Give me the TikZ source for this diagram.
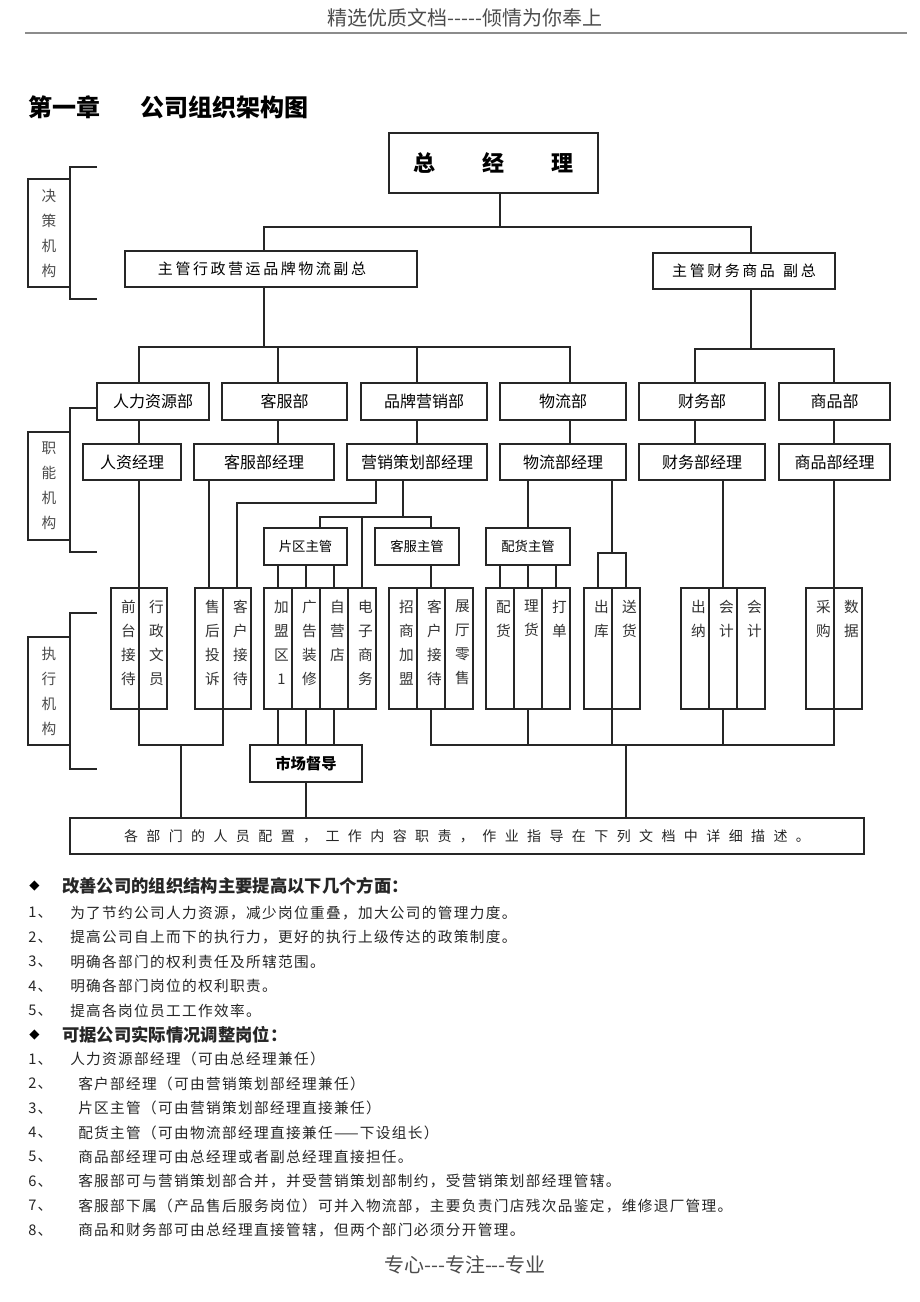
\documentclass[tikz,border=0pt]{standalone}
\usepackage{fontspec}
\setmainfont{Noto Sans CJK SC}
\newfontfamily\dejavu{DejaVu Sans}
\usetikzlibrary{calc}
\tikzset{
  bx/.style 2 args={draw=black!85, line width=0.9pt, inner sep=0pt, outer sep=0pt, minimum width=#1*0.75pt, minimum height=#2*0.75pt},
  dept/.style={font=\fontsize{12}{14}\selectfont},
  sup/.style={font=\fontsize{10}{12}\selectfont},
  cell/.style={bx={28}{121}},
  ctext/.style={anchor=north, inner sep=0pt, align=center, text=black!80, font=\fontsize{11}{18}\selectfont, xshift=2.5pt, yshift=-9pt},
  lbl/.style={bx={42}{108}, align=center, text=black!70, font=\fontsize{11}{18.75}\selectfont},
  conn/.style={draw=black!85, line width=0.9pt},
  txt/.style={anchor=west, inner sep=0pt, text=black!85},
  item/.style={txt, font=\fontsize{11}{13}\selectfont\addfontfeature{LetterSpace=9}},
  bul/.style={txt, font=\fontsize{13}{15}\selectfont\bfseries},
}
\newcommand\mkcell[3]{\node[cell] (#1) at (#2,648.5) {}; \node[ctext] at (#1.north) {#3};}
\begin{document}
\begin{tikzpicture}[x=0.75pt,y=-0.75pt]
\useasboundingbox (0,0) rectangle (920,1302);
\fill[white] (0,0) rectangle (920,1302);

% header / footer
\node[inner sep=0pt, text=black!70, font=\fontsize{15}{17}\selectfont] (hdr) at (465,18) {精选优质文档-{}-{}-{}-{}-倾情为你奉上};
\draw[black!45, line width=1.3pt] (25,33) -- (907,33);
\node[txt, text=black, font=\fontsize{18}{20}\selectfont\bfseries] (ttl) at (28,107) {第一章\hspace{30pt}公司组织架构图};
\node[inner sep=0pt, text=black!70, font=\fontsize{15}{17}\selectfont] (ftr) at (465,1265) {专心-{}-{}-专注-{}-{}-专业};

% top level
\node[bx={209}{60}, font=\fontsize{16.5}{18}\selectfont\bfseries] (gm) at (493.5,163) {总\hspace{35.5pt}经\hspace{35.5pt}理};
\node[bx={292}{36}] (vp1) at (271,269) {};
\node[inner sep=0pt, font=\fontsize{11.25}{13}\selectfont\addfontfeature{LetterSpace=17}] (vp1t) at (262,269) {主管行政营运品牌物流副总};
\node[bx={182}{36}, font=\fontsize{11.25}{13}\selectfont\addfontfeature{LetterSpace=17}] (vp2) at (744,271) {主管财务商品\hspace{0.55em}副总};

% departments
\node[bx={112}{37}, dept] (d1) at (153,401.5) {人力资源部};
\node[bx={125}{37}, dept] (d2) at (284.5,401.5) {客服部};
\node[bx={126}{37}, dept] (d3) at (424,401.5) {品牌营销部};
\node[bx={126}{37}, dept] (d4) at (563,401.5) {物流部};
\node[bx={126}{37}, dept] (d5) at (702,401.5) {财务部};
\node[bx={111}{37}, dept] (d6) at (834.5,401.5) {商品部};

% managers
\node[bx={98}{36}, dept] (m1) at (132,462) {人资经理};
\node[bx={140}{36}, dept] (m2) at (264,462) {客服部经理};
\node[bx={140}{36}, dept] (m3) at (417,462) {营销策划部经理};
\node[bx={126}{36}, dept] (m4) at (563,462) {物流部经理};
\node[bx={126}{36}, dept] (m5) at (702,462) {财务部经理};
\node[bx={111}{36}, dept] (m6) at (834.5,462) {商品部经理};

% supervisors
\node[bx={83}{37}, sup] (s1) at (305.5,546.5) {片区主管};
\node[bx={84}{37}, sup] (s2) at (417,546.5) {客服主管};
\node[bx={84}{37}, sup] (s3) at (528,546.5) {配货主管};

% cells
\mkcell{c1}{125}{前\\台\\接\\待}
\mkcell{c2}{153}{行\\政\\文\\员}
\mkcell{c3}{209}{售\\后\\投\\诉}
\mkcell{c4}{237}{客\\户\\接\\待}
\mkcell{c5}{278}{加\\盟\\区\\1}
\mkcell{c6}{306}{广\\告\\装\\修}
\mkcell{c7}{334}{自\\营\\店}
\mkcell{c8}{362}{电\\子\\商\\务}
\mkcell{c9}{403}{招\\商\\加\\盟}
\mkcell{c10}{431}{客\\户\\接\\待}
\mkcell{c11}{459}{展\\厅\\零\\售}
\mkcell{c12}{500}{配\\货}
\mkcell{c13}{528}{理\\货}
\mkcell{c14}{556}{打\\单}
\mkcell{c15}{598}{出\\库}
\mkcell{c16}{626}{送\\货}
\mkcell{c17}{695}{出\\纳}
\mkcell{c18}{723}{会\\计}
\mkcell{c19}{751}{会\\计}
\mkcell{c20}{820}{采\\购}
\mkcell{c21}{848}{数\\据}

\node[bx={112}{37}, font=\fontsize{11.5}{13}\selectfont\bfseries] (sd) at (306,763.5) {市场督导};
\node[bx={794}{36}, text=black!85, font=\fontsize{10.5}{12}\selectfont\addfontfeature{LetterSpace=60}] (bb) at (467,836) {各部门的人员配置，工作内容职责，作业指导在下列文档中详细描述。};

% side labels
\node[lbl] (L1) at (49,233) {决\\策\\机\\构};
\node[lbl] (L2) at (49,486) {职\\能\\机\\构};
\node[lbl] (L3) at (49,691) {执\\行\\机\\构};
\coordinate (b1a) at (97,167); \coordinate (b1b) at (97,299);
\coordinate (b2a) at (97,408); \coordinate (b2b) at (97,552);
\coordinate (b3a) at (97,613); \coordinate (b3b) at (97,769);
\draw[conn] (b1a) -- (b1a -| L1.east) -- (b1b -| L1.east) -- (b1b);
\draw[conn] (b2a) -- (b2a -| L2.east) -- (b2b -| L2.east) -- (b2b);
\draw[conn] (b3a) -- (b3a -| L3.east) -- (b3b -| L3.east) -- (b3b);

% connectors top
\coordinate (t0) at (500,227); \coordinate (t1) at (264,227); \coordinate (t2) at (751,227);
\draw[conn] (gm.south -| t0) -- (t0);
\draw[conn] (vp1.north -| t1) -- (t1) -- (t2) -- (vp2.north -| t2);
\coordinate (u0) at (264,347); \coordinate (u1) at (139,347); \coordinate (u2) at (278,347);
\coordinate (u3) at (417,347); \coordinate (u4) at (570,347);
\draw[conn] (vp1.south -| u0) -- (u0);
\draw[conn] (d1.north -| u1) -- (u1) -- (u4) -- (d4.north -| u4);
\draw[conn] (u2) -- (d2.north -| u2);
\draw[conn] (u3) -- (d3.north -| u3);
\coordinate (r0) at (751,349); \coordinate (r1) at (695,349); \coordinate (r2) at (834,349);
\draw[conn] (vp2.south -| r0) -- (r0);
\draw[conn] (d5.north -| r1) -- (r1) -- (r2) -- (d6.north -| r2);

\draw[conn] (d1.south -| u1) -- (m1.north -| u1);
\draw[conn] (d2.south -| u2) -- (m2.north -| u2);
\draw[conn] (d3.south -| u3) -- (m3.north -| u3);
\draw[conn] (d4.south -| u4) -- (m4.north -| u4);
\draw[conn] (d5.south -| r1) -- (m5.north -| r1);
\draw[conn] (d6.south -| r2) -- (m6.north -| r2);

% managers to lower level
\draw[conn] (m1.south -| c2.north west) -- (c2.north west);
\draw[conn] (m2.south -| c3.north) -- (c3.north);
\coordinate (v1) at (376,503);
\draw[conn] (m3.south -| v1) -- (v1) -| (c4.north);
\coordinate (w0) at (403,517); \coordinate (w1) at (320,517); \coordinate (w2) at (431,517);
\draw[conn] (m3.south -| w0) -- (w0);
\draw[conn] (s1.north -| w1) -- (w1) -- (w2) -- (s2.north -| w2);
\draw[conn] (w1 -| c8.north) -- (c8.north);
\draw[conn] (m4.south -| s3.north) -- (s3.north);
\coordinate (x0) at (612,553);
\draw[conn] (m4.south -| x0) -- (x0);
\draw[conn] (c15.north) |- (x0) -| (c16.north);
\draw[conn] (s1.south -| c5.north) -- (c5.north);
\draw[conn] (s1.south -| c6.north) -- (c6.north);
\draw[conn] (s1.south -| c7.north) -- (c7.north);
\draw[conn] (s2.south -| c10.north) -- (c10.north);
\draw[conn] (s3.south -| c12.north) -- (c12.north);
\draw[conn] (s3.south -| c13.north) -- (c13.north);
\draw[conn] (s3.south -| c14.north) -- (c14.north);
\draw[conn] (m5.south -| c18.north) -- (c18.north);
\draw[conn] (m6.south -| c21.north west) -- (c21.north west);

% bottom connectors
\coordinate (y1) at (139,745); \coordinate (y2) at (223,745); \coordinate (y0) at (181,745);
\draw[conn] (c2.south west) -- (y1) -- (y2) -- (c4.south west);
\draw[conn] (y0) -- (bb.north -| y0);
\draw[conn] (c5.south) -- (sd.north -| c5.south);
\draw[conn] (c6.south) -- (sd.north -| c6.south);
\draw[conn] (c7.south) -- (sd.north -| c7.south);
\draw[conn] (sd.south) -- (bb.north -| sd.south);
\coordinate (z1) at (431,745); \coordinate (z2) at (834,745); \coordinate (z0) at (626,745);
\draw[conn] (c10.south) -- (z1) -- (z2) -- (c21.south west);
\draw[conn] (c13.south) -- (c13.south |- z1);
\draw[conn] (c16.south west) -- (c16.south west |- z1);
\draw[conn] (c18.south) -- (c18.south |- z1);
\draw[conn] (z0) -- (bb.north -| z0);

% text list
\node[txt, font=\dejavu\fontsize{10}{12}\selectfont, text=black] (k1) at (29,886) {◆};
\node[bul] (h1) at (62,886) {改善公司的组织结构主要提高以下几个方面：};
\node[item] (n1) at (28,913) {1、};   \node[item] (e1) at (70,913) {为了节约公司人力资源，减少岗位重叠，加大公司的管理力度。};
\node[item] (n2) at (28,937.4) {2、}; \node[item] (e2) at (70,937.4) {提高公司自上而下的执行力，更好的执行上级传达的政策制度。};
\node[item] (n3) at (28,961.8) {3、}; \node[item] (e3) at (70,961.8) {明确各部门的权利责任及所辖范围。};
\node[item] (n4) at (28,986.2) {4、}; \node[item] (e4) at (70,986.2) {明确各部门岗位的权利职责。};
\node[item] (n5) at (28,1010.6) {5、}; \node[item] (e5) at (70,1010.6) {提高各岗位员工工作效率。};
\node[txt, font=\dejavu\fontsize{10}{12}\selectfont, text=black] (k2) at (29,1035) {◆};
\node[bul] (h2) at (62,1035) {可据公司实际情况调整岗位：};
\node[item] (p1) at (28,1059.4) {1、}; \node[item] (f1) at (70,1059.4) {人力资源部经理（可由总经理兼任）};
\node[item] (p2) at (28,1083.8) {2、}; \node[item] (f2) at (78,1083.8) {客户部经理（可由营销策划部经理兼任）};
\node[item] (p3) at (28,1108.2) {3、}; \node[item] (f3) at (78,1108.2) {片区主管（可由营销策划部经理直接兼任）};
\node[item] (p4) at (28,1132.6) {4、}; \node[item] (f4) at (78,1132.6) {配货主管（可由物流部经理直接兼任——下设组长）};
\node[item] (p5) at (28,1157) {5、};   \node[item] (f5) at (78,1157) {商品部经理可由总经理或者副总经理直接担任。};
\node[item] (p6) at (28,1181.4) {6、}; \node[item] (f6) at (78,1181.4) {客服部可与营销策划部合并，并受营销策划部制约，受营销策划部经理管辖。};
\node[item] (p7) at (28,1205.8) {7、}; \node[item] (f7) at (78,1205.8) {客服部下属（产品售后服务岗位）可并入物流部，主要负责门店残次品鉴定，维修退厂管理。};
\node[item] (p8) at (28,1230.2) {8、}; \node[item] (f8) at (78,1230.2) {商品和财务部可由总经理直接管辖，但两个部门必须分开管理。};
\end{tikzpicture}
\end{document}
